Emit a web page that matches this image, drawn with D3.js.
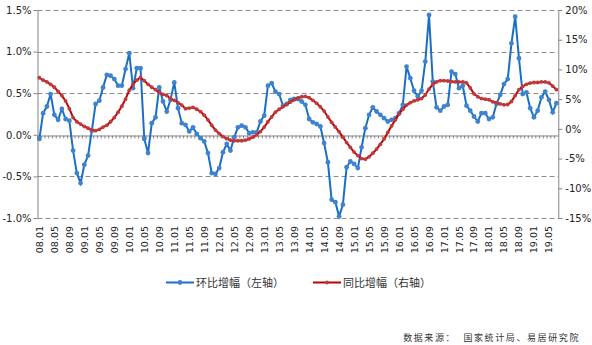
<!DOCTYPE html>
<html><head><meta charset="utf-8">
<script src="https://cdn.jsdelivr.net/npm/d3@7"></script>
<style>
html,body{margin:0;padding:0;background:#fff;}
svg{display:block;}
</style></head>
<body><svg id="c" width="592" height="345"></svg>
<script>
const categories = ("08.01 08.02 08.03 08.04 08.05 08.06 08.07 08.08 08.09 08.10 08.11 08.12 " +
"09.01 09.02 09.03 09.04 09.05 09.06 09.07 09.08 09.09 09.10 09.11 09.12 " +
"10.01 10.02 10.03 10.04 10.05 10.06 10.07 10.08 10.09 10.10 10.11 10.12 " +
"11.01 11.02 11.03 11.04 11.05 11.06 11.07 11.08 11.09 11.10 11.11 11.12 " +
"12.01 12.02 12.03 12.04 12.05 12.06 12.07 12.08 12.09 12.10 12.11 12.12 " +
"13.01 13.02 13.03 13.04 13.05 13.06 13.07 13.08 13.09 13.10 13.11 13.12 " +
"14.01 14.02 14.03 14.04 14.05 14.06 14.07 14.08 14.09 14.10 14.11 14.12 " +
"15.01 15.02 15.03 15.04 15.05 15.06 15.07 15.08 15.09 15.10 15.11 15.12 " +
"16.01 16.02 16.03 16.04 16.05 16.06 16.07 16.08 16.09 16.10 16.11 16.12 " +
"17.01 17.02 17.03 17.04 17.05 17.06 17.07 17.08 17.09 17.10 17.11 17.12 " +
"18.01 18.02 18.03 18.04 18.05 18.06 18.07 18.08 18.09 18.10 18.11 18.12 " +
"19.01 19.02 19.03 19.04 19.05 19.06 19.07").split(" ");

const tickLabels = ["08.01","08.05","08.09","09.01","09.05","09.09","10.01","10.05","10.09",
"11.01","11.05","11.09","12.01","12.05","12.09","13.01","13.05","13.09","14.01","14.05","14.09",
"15.01","15.05","15.09","16.01","16.05","16.09","17.01","17.05","17.09","18.01","18.05","18.09",
"19.01","19.05"];

// 环比增幅 (%), left axis
const mom = [
-0.05,0.26,0.34,0.49,0.24,0.18,0.31,0.19,0.17,-0.19,-0.46,-0.58,
-0.36,-0.25,0.05,0.37,0.41,0.57,0.72,0.71,0.67,0.59,0.59,0.79,
0.98,0.56,0.80,0.80,-0.05,-0.22,0.14,0.21,0.57,0.40,0.28,0.42,
0.63,0.32,0.14,0.12,0.04,0.09,0.01,-0.04,-0.08,-0.22,-0.46,-0.47,
-0.40,-0.21,-0.11,-0.19,-0.03,0.09,0.11,0.09,0.02,0.03,0.03,0.16,
0.23,0.59,0.62,0.52,0.49,0.35,0.37,0.42,0.43,0.43,0.40,0.36,
0.19,0.15,0.13,0.10,-0.10,-0.33,-0.78,-0.81,-0.98,-0.84,-0.39,-0.32,
-0.35,-0.40,-0.15,0.08,0.24,0.33,0.28,0.24,0.20,0.16,0.18,0.20,
0.26,0.36,0.82,0.68,0.53,0.46,0.53,0.88,1.44,0.64,0.33,0.29,
0.34,0.36,0.76,0.73,0.56,0.59,0.35,0.29,0.22,0.16,0.26,0.26,
0.19,0.21,0.37,0.48,0.61,0.67,1.10,1.42,0.92,0.49,0.51,0.32,
0.21,0.29,0.45,0.52,0.42,0.27,0.38];

// 同比增幅 (%), right axis
const yoy = [
8.6,8.2,7.9,7.5,7.0,6.3,5.6,4.7,3.4,1.9,1.2,0.8,
0.4,0.1,-0.17,-0.3,-0.1,0.3,0.6,1.2,1.9,2.8,3.8,5.0,
6.5,7.5,8.2,8.65,8.1,7.5,7.0,6.6,6.1,5.8,5.6,5.1,
4.8,4.4,4.0,3.4,3.5,3.6,3.3,2.9,2.3,1.5,0.6,-0.2,
-0.8,-1.3,-1.65,-1.9,-2.0,-2.0,-2.0,-1.9,-1.7,-1.4,-1.0,-0.45,
0.3,1.2,2.0,2.8,3.3,3.7,4.1,4.5,4.9,5.2,5.4,5.45,
5.25,4.8,4.3,3.7,3.0,2.0,1.1,0.3,-0.5,-1.4,-2.3,-3.1,
-3.9,-4.5,-5.0,-5.1,-4.7,-4.1,-3.4,-2.6,-1.7,-0.6,0.5,1.5,
2.5,3.3,4.0,4.4,4.7,4.9,5.1,5.7,6.7,7.5,7.9,8.1,
8.1,8.05,7.95,7.9,7.9,7.9,7.75,6.9,5.9,5.4,5.1,5.0,
4.9,4.55,4.4,4.2,4.05,4.1,4.6,5.6,6.6,7.15,7.5,7.7,
7.8,7.8,7.9,7.9,7.75,7.2,6.6];

const leftTicks = [-1.0,-0.5,0.0,0.5,1.0,1.5];
const rightTicks = [-15,-10,-5,0,5,10,15,20];
const seriesNames = ["环比增幅（左轴）","同比增幅（右轴）"];
const sourceText = "数据来源：  国家统计局、易居研究院";

const svg = d3.select("#c");
const L = 37.5, R = 558.3, T = 10, B = 218;
const x = d3.scaleBand().domain(categories).range([L, R]).paddingInner(0).paddingOuter(0);
const cx = c => x(c) + x.bandwidth()/2;
const yL = d3.scaleLinear().domain([-1, 1.5]).range([B, T]);
const yR = d3.scaleLinear().domain([-15, 20]).range([B, T]);
const axisColor = "#868686";
const latin = "'DejaVu Sans', Verdana, sans-serif";
const cjk = "'Noto Sans CJK SC', sans-serif";

// gridlines
svg.append("g").selectAll("line").data(leftTicks.filter(d => d !== 0)).join("line")
  .attr("x1", L).attr("x2", R).attr("y1", d => Math.round(yL(d))+0.5).attr("y2", d => Math.round(yL(d))+0.5)
  .attr("stroke", "#8c8c8c").attr("stroke-width", 1).attr("stroke-dasharray", "5,3");

// left axis
const gl = svg.append("g").attr("transform", `translate(${L},0)`)
  .call(d3.axisLeft(yL).tickValues(leftTicks).tickFormat(d => d.toFixed(1) + "%").tickSize(4).tickSizeOuter(0));
gl.select(".domain").attr("stroke", axisColor);
gl.selectAll(".tick line").attr("stroke", axisColor);
gl.selectAll(".tick text").attr("font-family", latin).attr("font-size", 10).attr("fill", "#222").attr("x", -6);

// right axis
const gr = svg.append("g").attr("transform", `translate(${R},0)`)
  .call(d3.axisRight(yR).tickValues(rightTicks).tickFormat(d => d + "%").tickSize(4).tickSizeOuter(0));
gr.select(".domain").attr("stroke", axisColor);
gr.selectAll(".tick line").attr("stroke", axisColor);
gr.selectAll(".tick text").attr("font-family", latin).attr("font-size", 10).attr("fill", "#222").attr("x", 7);

// zero category axis with ticks
const y0 = Math.round(yL(0)) + 0.5;
const gx = svg.append("g").attr("transform", `translate(0,${y0})`)
  .call(d3.axisBottom(x).tickValues(categories).tickSize(3).tickSizeOuter(0).tickFormat(""));
gx.select(".domain").attr("stroke", axisColor);
gx.selectAll(".tick line").attr("stroke", axisColor).attr("transform", `translate(${-x.bandwidth()/2},0)`);

// x labels (rotated)
svg.append("g").selectAll("text").data(tickLabels).join("text")
  .attr("transform", d => `translate(${cx(d)+3.5},${B+8}) rotate(-90)`)
  .attr("text-anchor", "end")
  .attr("font-family", latin).attr("font-size", 9.5).attr("fill", "#222")
  .text(d => d);

// lines
const lineL = d3.line().x((d,i) => cx(categories[i])).y(d => yL(d));
const lineR = d3.line().x((d,i) => cx(categories[i])).y(d => yR(d));
const blue = "#1a6fc4", blueM = "#3f82cf", red = "#c00000", redM = "#c0393b";

svg.append("path").datum(mom).attr("d", lineL).attr("fill", "none").attr("stroke", blue).attr("stroke-width", 2);
svg.append("g").selectAll("circle").data(mom).join("circle")
  .attr("cx", (d,i) => cx(categories[i])).attr("cy", d => yL(d)).attr("r", 2.4).attr("fill", blueM);

svg.append("path").datum(yoy).attr("d", lineR).attr("fill", "none").attr("stroke", red).attr("stroke-width", 2);
svg.append("g").selectAll("circle").data(yoy).join("circle")
  .attr("cx", (d,i) => cx(categories[i])).attr("cy", d => yR(d)).attr("r", 1.9).attr("fill", redM);

// legend
const lg = svg.append("g");
const items = [{name: seriesNames[0], x: 166, c: blue, m: blueM, r: 2.4}, {name: seriesNames[1], x: 313, c: red, m: redM, r: 1.9}];
items.forEach(it => {
  lg.append("line").attr("x1", it.x).attr("x2", it.x + 28).attr("y1", 282.5).attr("y2", 282.5).attr("stroke", it.c).attr("stroke-width", 2);
  lg.append("circle").attr("cx", it.x + 14).attr("cy", 282.5).attr("r", it.r).attr("fill", it.m);
  lg.append("text").attr("x", it.x + 30).attr("y", 286.5).attr("font-family", cjk).attr("font-size", 11).attr("fill", "#333").text(it.name);
});

// source
svg.append("text").attr("x", 580).attr("y", 341).attr("text-anchor", "end")
  .attr("font-family", cjk).attr("font-size", 9).attr("letter-spacing", 1.6).attr("fill", "#333")
  .attr("xml:space", "preserve").style("white-space", "pre").text(sourceText);
</script>
</body></html>
